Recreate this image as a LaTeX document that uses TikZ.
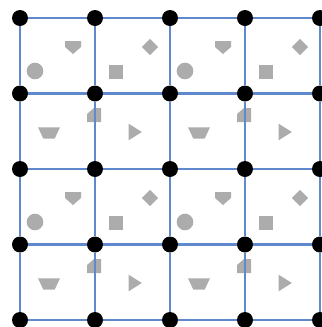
\documentclass[tikz,border=0pt]{standalone}
\usepackage{xcolor}
\usepackage{tikz}
\usetikzlibrary{shapes.geometric, positioning, calc}
\definecolor{gridblue}{RGB}{96,136,204}
\definecolor{shapegray}{RGB}{172,172,172}

\begin{document}
\begin{tikzpicture}[x=0.3mm, y=-0.3mm,
  vtx/.style={shape=circle, fill=black, inner sep=0pt, minimum size=4.8mm},
  edge/.style={draw=gridblue, line width=0.7mm},
  shp/.style={fill=shapegray, draw=none, inner sep=0.5pt},
  blob/.style={shp, shape=circle, minimum size=5mm},
  diam/.style={shp, shape=diamond, minimum size=4.9mm},
  sq/.style={shp, shape=rectangle, minimum size=4.4mm},
  trap/.style={shp, shape=trapezium, trapezium angle=65, shape border rotate=180, minimum width=6.2mm, minimum height=3.4mm},
  tri/.style={shp, shape=isosceles triangle, isosceles triangle stretches, minimum width=5mm, minimum height=4mm}
]
\useasboundingbox (0,0) rectangle (322,327);
% shapes, one set per 2x2 block
\foreach \i in {0,1} {
  \foreach \j in {0,1} {
    \coordinate (b-\i-\j) at (20+150*\i, 18+151*\j);
    \coordinate (pent-\i-\j) at ($(b-\i-\j)+(53,29)$);
    \fill[shapegray] ($(pent-\i-\j)+(-8,-6)$) -- ($(pent-\i-\j)+(8,-6)$) -- ($(pent-\i-\j)+(8,0)$)
      -- ($(pent-\i-\j)+(0,7)$) -- ($(pent-\i-\j)+(-8,0)$) -- cycle;
    \node[blob] (circ-\i-\j) at ($(b-\i-\j)+(15,53)$) {};
    \node[diam] (diam-\i-\j) at ($(b-\i-\j)+(130,29)$) {};
    \node[sq]   (sq-\i-\j)   at ($(b-\i-\j)+(96,54)$) {};
    \node[trap] (trap-\i-\j) at ($(b-\i-\j)+(29,115)$) {};
    \node[tri]  (tri-\i-\j)  at ($(b-\i-\j)+(113,114)$) {};
    \fill[shapegray] ($(b-\i-\j)+(67,104)$) -- ($(b-\i-\j)+(67,96)$) -- ($(b-\i-\j)+(74,90)$)
      -- ($(b-\i-\j)+(81,90)$) -- ($(b-\i-\j)+(81,104)$) -- cycle;
  }
}
% vertices
\foreach \i in {0,...,4} {
  \foreach \j in {0,...,4} {
    \node[vtx] (v-\i-\j) at (20+75*\i, 18+75.5*\j) {};
  }
}
% grid lines
\foreach \i [count=\k] in {0,...,3} {
  \foreach \j in {0,...,4} {
    \draw[edge] (v-\i-\j) -- (v-\k-\j);
    \draw[edge] (v-\j-\i) -- (v-\j-\k);
  }
}
\end{tikzpicture}
\end{document}
